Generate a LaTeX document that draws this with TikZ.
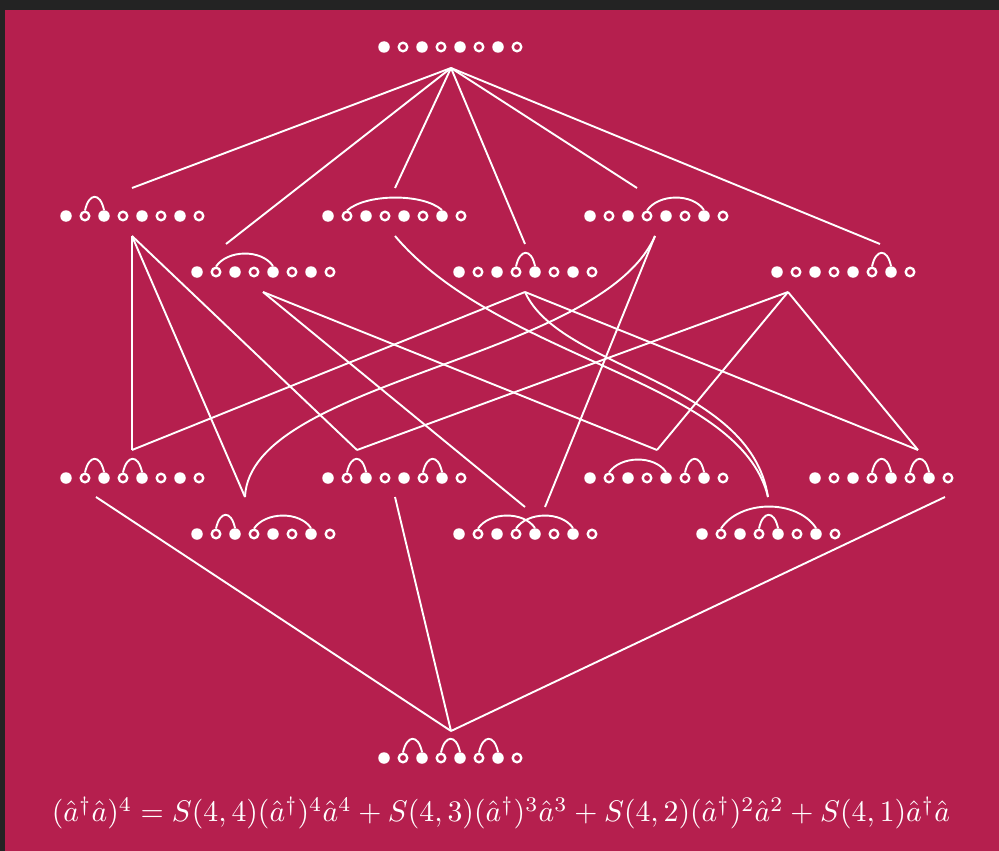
\documentclass[tikz,border=0pt]{standalone}
\usepackage{graphicx}
\definecolor{bgm}{HTML}{B51F4E}
\definecolor{frm}{HTML}{232323}
\newcommand\stt[3]{%
  \node[statebox] (#1) at ({#2+66.5},#3) {};
  \foreach \k in {0,2,4,6} \node[fdot] (#1-\k) at ({#2+\k*19},#3) {};
  \foreach \k in {1,3,5,7} \node[hdot] (#1-\k) at ({#2+\k*19},#3) {};
}
\newcommand\lnk[4]{\draw[arcl] (#1-#2.north) .. controls +({0.2*(#3-#2)*19},{-#4}) and +({-0.2*(#3-#2)*19},{-#4}) .. (#1-#3.north);}
\begin{document}
\begin{tikzpicture}[x=1pt,y=-1pt,
  statebox/.style={inner sep=0pt, minimum width=140pt, minimum height=12pt},
  fdot/.style={circle, fill=white, inner sep=0pt, minimum size=11.5pt},
  hdot/.style={circle, draw=white, line width=2.3pt, inner sep=0pt, minimum size=8.6pt},
  arcl/.style={draw=white, line width=1.9pt},
  edge/.style={draw=white, line width=1.9pt}]
\useasboundingbox (0,0) rectangle (999,851);
\fill[frm] (0,0) rectangle (999,851);
\fill[bgm] (5,10) rectangle (999,851);
% states
\stt{T}{384}{47}
\stt{A}{66}{216}
\stt{B}{328}{216}
\stt{C}{590}{216}
\stt{D}{197}{272}
\stt{E}{459}{272}
\stt{F}{777}{272}
\stt{G}{66}{478}
\stt{H}{328}{478}
\stt{I}{590}{478}
\stt{J}{815}{478}
\stt{K}{197}{534}
\stt{L}{459}{534}
\stt{M}{702}{534}
\stt{N}{384}{758}
% contractions
\lnk{A}{1}{2}{18}
\lnk{B}{1}{6}{17}
\lnk{C}{3}{6}{17}
\lnk{D}{1}{4}{17}
\lnk{E}{3}{4}{18}
\lnk{F}{5}{6}{18}
\lnk{G}{1}{2}{18}\lnk{G}{3}{4}{18}
\lnk{H}{1}{2}{18}\lnk{H}{5}{6}{18}
\lnk{I}{1}{4}{17}\lnk{I}{5}{6}{18}
\lnk{J}{3}{4}{18}\lnk{J}{5}{6}{18}
\lnk{K}{1}{2}{18}\lnk{K}{3}{6}{17}
\lnk{L}{1}{4}{17}\lnk{L}{3}{6}{17}
\lnk{M}{1}{6}{29}\lnk{M}{3}{4}{18}
\lnk{N}{1}{2}{18}\lnk{N}{3}{4}{18}\lnk{N}{5}{6}{18}
% connector ends
\coordinate (T-b) at (451,68);
\coordinate (A-t) at (132,188); \coordinate (A-b) at (132,236);
\coordinate (B-t) at (395,188); \coordinate (B-b) at (395,236);
\coordinate (C-t) at (637,188); \coordinate (C-b) at (655,236);
\coordinate (D-t) at (226,244); \coordinate (D-b) at (263,292);
\coordinate (E-t) at (525,244); \coordinate (E-b) at (525,292);
\coordinate (F-t) at (880,244); \coordinate (F-b) at (788,292);
\coordinate (G-t) at (132,450); \coordinate (G-b) at (96,497);
\coordinate (H-t) at (357,450); \coordinate (H-b) at (395,497);
\coordinate (I-t) at (657,450);
\coordinate (J-t) at (918,450); \coordinate (J-b) at (945,497);
\coordinate (K-t) at (245,497);
\coordinate (L-t) at (525,507); \coordinate (L-u) at (545,507);
\coordinate (M-t) at (768,497);
\coordinate (N-t) at (451,731);
% level 0 -> 1
\foreach \s in {A,B,C,D,E,F} \draw[edge] (T-b) -- (\s-t);
% level 1 -> 2
\draw[edge] (A-b) -- (G-t);
\draw[edge] (A-b) -- (K-t);
\draw[edge] (A-b) -- (H-t);
\draw[edge] (D-b) -- (I-t);
\draw[edge] (D-b) -- (L-t);
\draw[edge] (E-b) -- (G-t);
\draw[edge] (E-b) -- (J-t);
\draw[edge] (F-b) -- (H-t);
\draw[edge] (F-b) -- (I-t);
\draw[edge] (F-b) -- (J-t);
\draw[edge] (C-b) -- (L-u);
\draw[edge] (C-b) .. controls (600,360) and (250,380) .. (K-t);
\draw[edge] (B-b) .. controls (500,360) and (740,380) .. (M-t);
\draw[edge] (E-b) .. controls (560,370) and (750,380) .. (M-t);
% level 2 -> 3
\draw[edge] (G-b) -- (N-t);
\draw[edge] (H-b) -- (N-t);
\draw[edge] (J-b) -- (N-t);
% formula
\node (eq) at (501,813) {\resizebox{898pt}{!}{\color{white}$(\hat a^\dagger \hat a)^4 = S(4,4)(\hat a^\dagger)^4\hat a^4 + S(4,3)(\hat a^\dagger)^3\hat a^3 + S(4,2)(\hat a^\dagger)^2\hat a^2 + S(4,1)\hat a^\dagger\hat a$}};
\end{tikzpicture}
\end{document}
